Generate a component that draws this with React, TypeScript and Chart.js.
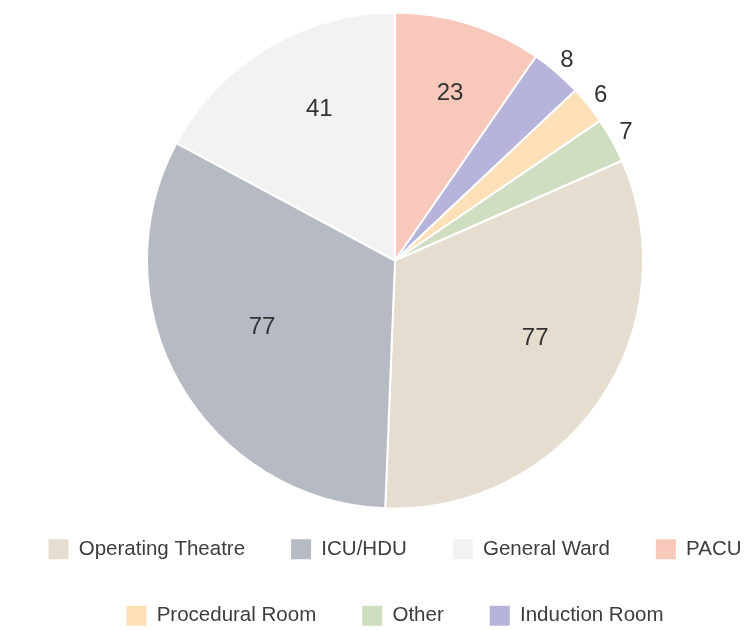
import React, { useEffect, useRef } from 'react';
import { Chart, registerables } from 'chart.js';

Chart.register(...registerables);

// Slices in drawing order, clockwise from 12 o'clock
const categories = ['PACU', 'Induction Room', 'Procedural Room', 'Other', 'Operating Theatre', 'ICU/HDU', 'General Ward'];
const counts = [23, 8, 6, 7, 77, 77, 41];
const sliceColors = ['#f8c9bb', '#b6b4da', '#fde0b7', '#cfdec0', '#e6ddd1', '#b6bac3', '#f2f2f2'];
// Order in which the legend lists the categories
const legendOrder = ['Operating Theatre', 'ICU/HDU', 'General Ward', 'PACU', 'Procedural Room', 'Other', 'Induction Room'];

const FONT = '"Liberation Sans", Arial, Helvetica, sans-serif';

// label placement style
const INSIDE_FRACTION = 0.65;
const INSIDE_NUDGE_X = 7;
const INSIDE_NUDGE_Y = -13;
const OUTSIDE_GAP = 16;
const OUTSIDE_THRESHOLD = 0.05;

const valueLabels = {
  id: 'valueLabels',
  afterDatasetsDraw(chart: any) {
    const ctx = chart.ctx;
    const meta = chart.getDatasetMeta(0);
    const data = chart.data.datasets[0].data as number[];
    const total = data.reduce((a, b) => a + b, 0);
    ctx.save();
    ctx.fillStyle = '#333';
    ctx.textAlign = 'center';
    ctx.textBaseline = 'middle';
    ctx.font = `24px ${FONT}`;
    meta.data.forEach((arc: any, i: number) => {
      const { x, y, startAngle, endAngle, outerRadius } = arc.getProps(
        ['x', 'y', 'startAngle', 'endAngle', 'outerRadius'],
        true
      );
      const mid = (startAngle + endAngle) / 2;
      if (data[i] / total < OUTSIDE_THRESHOLD) {
        const r = outerRadius + OUTSIDE_GAP;
        ctx.fillText(String(data[i]), x + r * Math.cos(mid), y + r * Math.sin(mid));
      } else {
        const r = outerRadius * INSIDE_FRACTION;
        ctx.fillText(
          String(data[i]),
          x + r * Math.cos(mid) + INSIDE_NUDGE_X,
          y + r * Math.sin(mid) + INSIDE_NUDGE_Y
        );
      }
    });
    ctx.restore();
  },
};

export default function App() {
  const ref = useRef<HTMLCanvasElement>(null);

  useEffect(() => {
    const baseGen = (Chart as any).overrides.doughnut.plugins.legend.labels.generateLabels;
    const chart = new Chart(ref.current as HTMLCanvasElement, {
      type: 'pie',
      data: {
        labels: categories,
        datasets: [
          {
            data: counts,
            backgroundColor: sliceColors,
            borderColor: '#ffffff',
            borderWidth: 2,
          },
        ],
      },
      options: {
        animation: false,
        responsive: false,
        radius: 248,
        layout: { padding: { top: 20, bottom: 0, left: 0, right: 0 } },
        plugins: {
          legend: {
            position: 'bottom',
            labels: {
              boxWidth: 20,
              boxHeight: 20,
              padding: 46,
              color: '#3d3d3d',
              font: { size: 20.5, family: FONT },
              generateLabels: (c: any) =>
                baseGen(c).map((it: any) => ({ ...it, lineWidth: 0, strokeStyle: 'rgba(0,0,0,0)' })),
              sort: (a: any, b: any) => legendOrder.indexOf(a.text) - legendOrder.indexOf(b.text),
            },
          },
          tooltip: { enabled: false },
        },
      } as any,
      plugins: [valueLabels],
    });
    return () => chart.destroy();
  }, []);

  return (
    <div style={{ position: 'relative', width: 743, height: 622, overflow: 'hidden' }}>
      <canvas
        ref={ref}
        width={830}
        height={628}
        style={{ position: 'absolute', left: -28, top: 0, width: 830, height: 628 }}
      />
    </div>
  );
}
